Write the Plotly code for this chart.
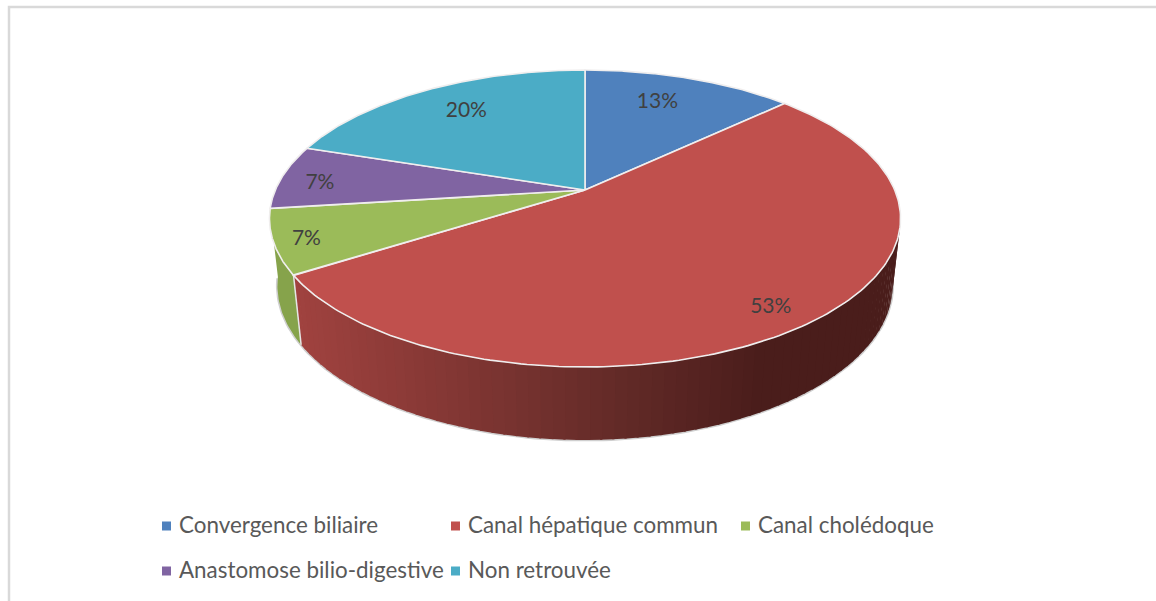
import numpy as np
import plotly.graph_objects as go

categories = ["Convergence biliaire", "Canal hépatique commun", "Canal cholédoque",
              "Anastomose bilio-digestive", "Non retrouvée"]
values = [13, 53, 7, 7, 20]
colors = ["#4f81bd", "#c0504d", "#9bbb59", "#8064a2", "#4bacc6"]

W, H = 1156, 601
CX, CY, A, B, K = 585.0, 190.0, 309.7, 143.0, 0.192
BCY, BA, BB, BK = 256.0, 302.0, 149.0, 0.19
LABEL_R = [0.76, 0.88, 0.90, 0.88, 0.78]
LABEL_NUDGE = [(-10, 1), (-7, 3), (0, 3), (2, 5), (8, 2)]
LEGEND_X = [166.5, 455.5, 745.5, 166.5, 455.5]
LEGEND_Y = [526, 526, 526, 571, 571]
LEGEND_TEXT_DX = 12.5
LEGEND_TEXT_DY = 1.5


def top(theta, r=1.0):
    u, v = r * np.sin(theta), r * np.cos(theta)
    w = 1 + K * v
    return CX + A * u / w, CY - B * v / w


def bottom(theta):
    u, v = np.sin(theta), np.cos(theta)
    w = 1 + BK * v
    return CX + BA * u / w, BCY - BB * v / w


def mix(c1, c2, t):
    a = [int(c1[i:i + 2], 16) for i in (1, 3, 5)]
    b = [int(c2[i:i + 2], 16) for i in (1, 3, 5)]
    return "rgb(%d,%d,%d)" % tuple(round(p + (q - p) * t) for p, q in zip(a, b))


edges = 2 * np.pi * np.cumsum([0] + values) / sum(values)
fig = go.Figure()

# frame
fig.add_trace(go.Scatter(x=[9, 9, W], y=[H, 7, 7], mode="lines",
                         line=dict(color="#d9d9d9", width=2.5),
                         hoverinfo="skip", showlegend=False))

# outer silhouette of the side wall
sil_t = np.linspace(np.radians(75), edges[3] - 0.02, 160)
bx, by = bottom(sil_t)
fig.add_trace(go.Scatter(x=bx, y=by, mode="lines", line=dict(color="#cfcfcf", width=3),
                         hoverinfo="skip", showlegend=False))

# side wall, red part: strips shaded by horizontal position
stops_x = [296, 600, 760, 905]
stops_c = ["#a0423f", "#662c29", "#4a1d1b", "#4a1d1b"]
side_edges = np.linspace(np.radians(70), edges[2], 90)
for a0, a1 in zip(side_edges[:-1], side_edges[1:]):
    t = np.linspace(a0, a1 + 0.006, 4)
    tx, ty = top(t)
    lx, ly = bottom(t)
    mx = float(np.mean(tx))
    i = min(np.searchsorted(stops_x, mx, side="right") - 1, 2)
    f = (mx - stops_x[i]) / (stops_x[i + 1] - stops_x[i])
    col = mix(stops_c[i], stops_c[i + 1], np.clip(f, 0, 1))
    fig.add_trace(go.Scatter(x=np.r_[tx, lx[::-1]], y=np.r_[ty, ly[::-1]], mode="lines",
                             fill="toself", fillcolor=col, line=dict(width=0),
                             hoverinfo="skip", showlegend=False))

# side wall, green part
t = np.linspace(edges[2], edges[3] - 0.01, 40)
tx, ty = top(t)
lx, ly = bottom(t)
fig.add_trace(go.Scatter(x=np.r_[tx, lx[::-1]], y=np.r_[ty, ly[::-1]], mode="lines",
                         fill="toself", fillcolor="#86a34b", line=dict(width=0),
                         hoverinfo="skip", showlegend=False))
# light edge between the two wall parts
ex0, ey0 = top(edges[2])
ex1, ey1 = bottom(edges[2])
fig.add_trace(go.Scatter(x=[ex0, ex1], y=[ey0, ey1], mode="lines",
                         line=dict(color="#e6e6e6", width=1.5),
                         hoverinfo="skip", showlegend=False))

# top face slices
for i, c in enumerate(colors):
    t = np.linspace(edges[i], edges[i + 1], 200)
    x, y = top(t)
    fig.add_trace(go.Scatter(x=np.r_[CX, x, CX], y=np.r_[CY, y, CY], mode="lines",
                             fill="toself", fillcolor=c,
                             line=dict(color="#f0eeee", width=1.6),
                             hoverinfo="skip", showlegend=False))

# data labels
mids = (edges[:-1] + edges[1:]) / 2
pts = [top(m, r) for m, r in zip(mids, LABEL_R)]
lx = [p[0] + n[0] for p, n in zip(pts, LABEL_NUDGE)]
ly = [p[1] + n[1] for p, n in zip(pts, LABEL_NUDGE)]
fig.add_trace(go.Scatter(x=lx, y=ly, mode="text", text=[f"{v}%" for v in values],
                         textposition="middle center",
                         textfont=dict(family="Lato", size=21, color="#404040"),
                         hoverinfo="skip", showlegend=False))

# legend entries: swatch and its label
for name, c, x, y in zip(categories, colors, LEGEND_X, LEGEND_Y):
    fig.add_trace(go.Scatter(x=[x], y=[y], mode="markers", name=name,
                             marker=dict(symbol="square", size=9, color=c),
                             hoverinfo="skip", showlegend=False))
    fig.add_trace(go.Scatter(x=[x + LEGEND_TEXT_DX], y=[y + LEGEND_TEXT_DY], mode="text",
                             text=[name], textposition="middle right",
                             textfont=dict(family="Lato", size=22.4, color="#595959"),
                             hoverinfo="skip", showlegend=False))

fig.update_layout(
    width=W, height=H, autosize=False,
    margin=dict(l=0, r=0, t=0, b=0),
    paper_bgcolor="white", plot_bgcolor="white",
    xaxis=dict(range=[0, W], visible=False, fixedrange=True),
    yaxis=dict(range=[H, 0], visible=False, fixedrange=True),
    showlegend=False,
)
fig.write_html("out.html", config={"displayModeBar": False},
               post_script="document.body.style.margin='0';document.documentElement.style.overflow='hidden';")
